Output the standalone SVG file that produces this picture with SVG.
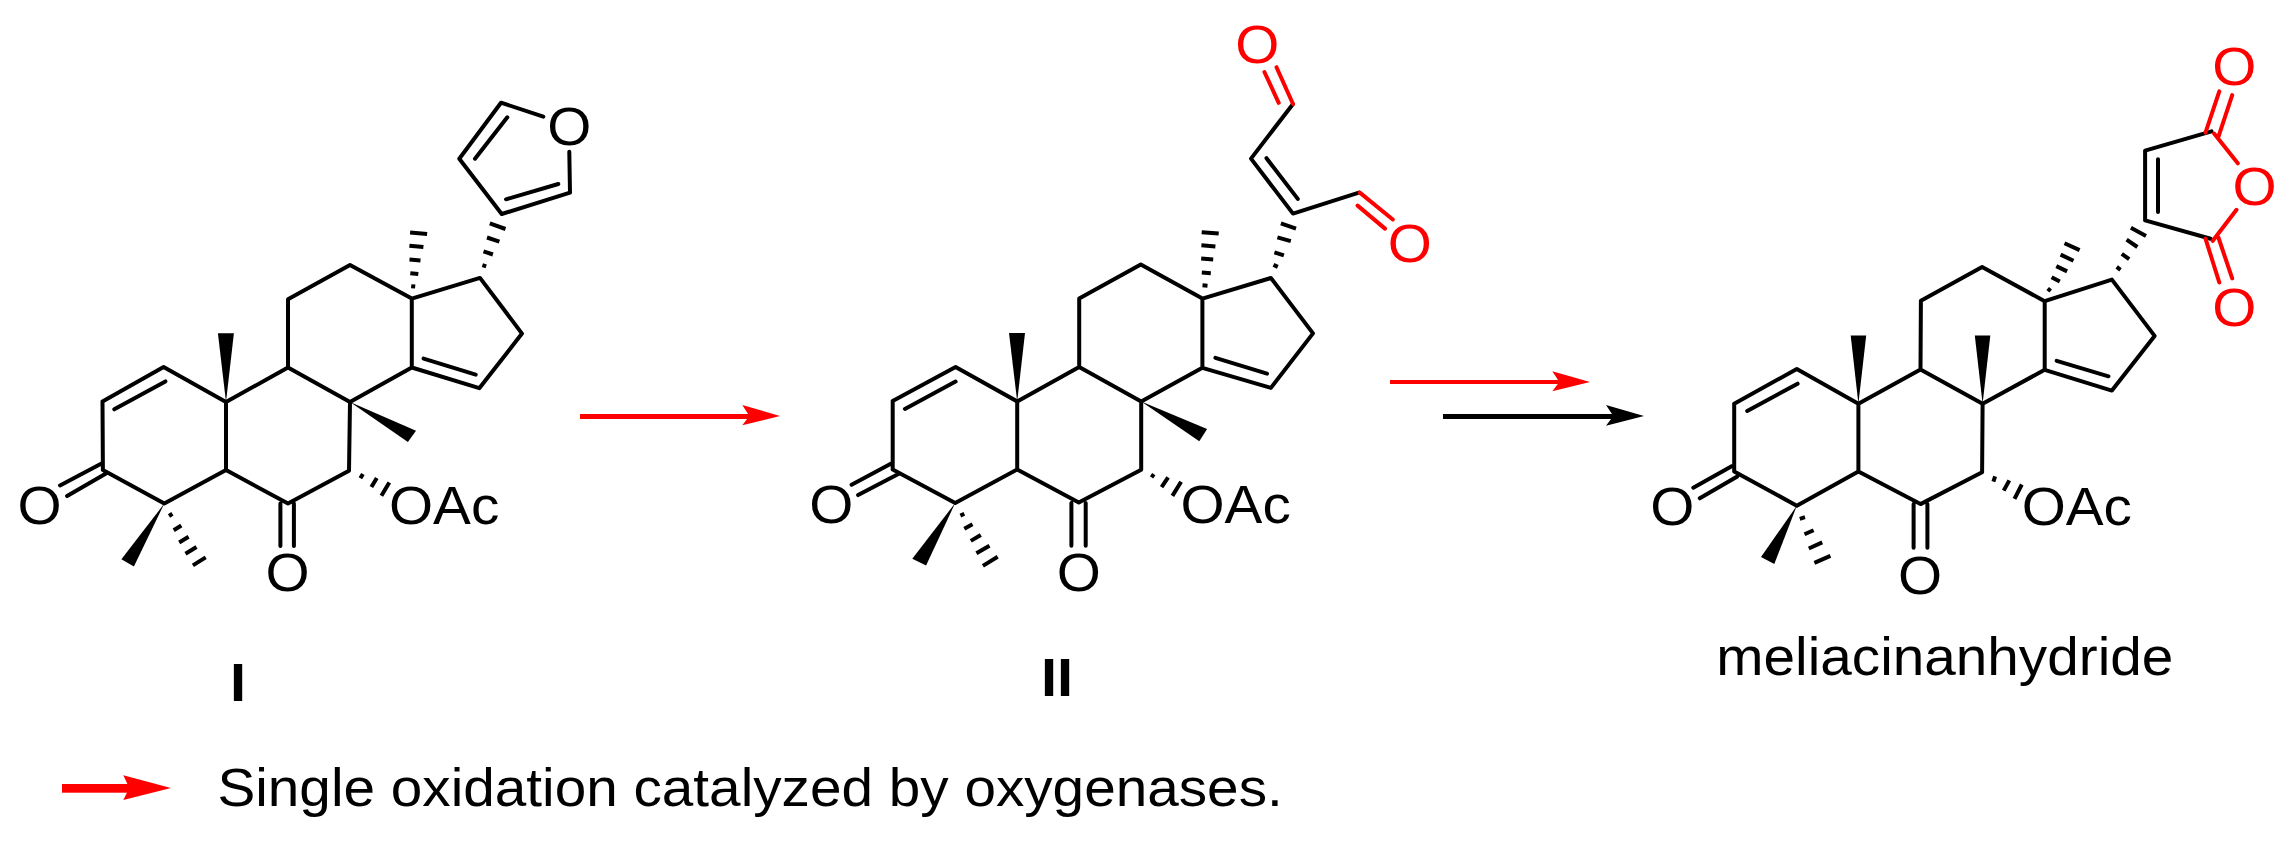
<svg xmlns="http://www.w3.org/2000/svg" width="2296" height="844" viewBox="0 0 2296 844">
<style>
.b{fill:none;stroke:#000;stroke-width:4;stroke-linecap:round;stroke-linejoin:round}
.r{fill:none;stroke:#f00;stroke-width:4;stroke-linecap:round;stroke-linejoin:round}
.h{fill:none;stroke:#000;stroke-width:4;stroke-linecap:butt}
.w{fill:#000;stroke:none}
text{font-family:"Liberation Sans",Arial,sans-serif;fill:#000;font-size:53px}
.m{text-anchor:middle}
.red{fill:#f00}
.bold{font-size:54px;font-weight:bold;text-anchor:middle}
.ar{fill:#f00}
</style>
<rect width="2296" height="844" fill="#fff"/>
<g id="compound-I">
<path class="b" d="M102.5,401.4L163.6,367.1L226,402L288,367.5L350,402L411.8,367.5L479.3,388.2L522,333.6L480,277.9L411.8,298.6L350,265L288,299.3L288,367.5M226,402L226,470L288,503.6L349,470.7L350,402M411.8,298.6L411.8,367.5M102.9,470L164.3,503.6L226,470M102.5,401.4L102.9,470M114.3,409.3L165.4,381.4M423.6,358.6L475.7,374.6M102.5,462.9L60,485.4M106,473.6L67.1,496.1M280.4,503.6L280.4,546M293.9,503.6L293.9,546M501.7,214L459.3,158.7L501,102.7L543.3,116.7M501.7,214L570,192.7L569.3,151.7M475,158.7L507.3,117.3M506,199.3L558.3,184"/>
<polygon class="w" points="164.3,503.6 121.4,559.3 133.9,566.4"/>
<polygon class="w" points="226,402 217.9,333.2 233.9,333.2"/>
<polygon class="w" points="350,402 416,430.7 407.9,442.1"/>
<path class="h" d="M411.2,286.2L415.2,286.6M410.3,273.2L418.3,274M409.5,259.5L420.5,260.5M409.4,245.7L423.4,247.1M410.1,232.4L427.1,234M482.4,265.1L486.2,266.3M483.5,251.3L492.9,254.5M487,237.5L499.4,241.7M489.8,223.3L505.5,229M360.4,478.2L362.9,473.9M371.4,487.1L376.8,477.9M381.4,495.7L389.3,482.5M169,516L172.4,513.8M173.7,530.3L181.3,525.5M179.2,542.5L188.6,536.7M185.5,553.8L196.5,547M192.9,565.4L205.7,557.4"/>
<text class="m" transform="translate(39.6,523.5) scale(1.07,1)">O</text>
<text class="m" transform="translate(287.5,591) scale(1.07,1)">O</text>
<text transform="translate(389,523.5) scale(1.07,1)">OAc</text>
<text class="m" transform="translate(569.3,144.5) scale(1.07,1)">O</text>
<text class="bold" transform="translate(238,701) scale(1.07,1)">I</text>
</g>
<g id="compound-II">
<path class="b" d="M892.7,401L955.6,367L1017.2,401.4L1079.2,367L1141.2,401.4L1202.4,367.8L1270.9,387.9L1313,333.4L1270.9,278L1202.4,298.6L1140.8,264.5L1079.2,298.6L1079.2,367M1017.2,401.4L1017.2,469.4L1078.8,502.6L1141.2,469.8L1141.2,401.4M1202.4,298.6L1202.4,367.8M892.7,469.4L955.2,503L1017.2,469.4M892.7,401L892.7,469.4M904.9,408.9L955.6,381.6M1215.4,357.8L1267,373.7M892.7,462.7L851.6,484.8M899.3,473.4L858.1,495.1M1071.4,503L1071.4,545.7M1085.7,503L1085.7,545.7M1293,104L1251,158.6L1293,213.6L1358.9,192.6M1266.5,158.2L1297.8,198.9"/>
<path class="r" d="M1293,104L1276.5,67.2M1278.7,102.8L1264.4,72M1359.8,192.6L1392.8,219.5M1357.6,205.6L1385,228.6"/>
<polygon class="w" points="955.2,503 912.3,558.7 926.1,565.5"/>
<polygon class="w" points="1017.2,401.4 1009,332.9 1025,332.9"/>
<polygon class="w" points="1141.2,401.4 1207.1,429 1199.3,441.3"/>
<path class="h" d="M1202.5,285.3L1207.5,285.7M1201.8,272.5L1210.8,273.2M1201.2,258.4L1213.2,259.5M1201.4,245.3L1215.4,246.6M1201.7,232.2L1218.7,233.6M1280.9,223.4L1296,228.6M1277.4,237.3L1290.8,241.2M1274.4,252.3L1283.9,255.4M1273.5,264.9L1277.8,266.9M1151.6,477.3L1153.8,474.2M1161.6,487.1L1168.1,477.3M1172.4,495.9L1181.1,481.7M960.4,515.6L964.3,513.8M964.3,528.7L972.5,524.3M970.8,540.9L980.8,535M976.4,553.3L989.5,545.7M982.9,565.9L997.7,556.8"/>
<text class="m" transform="translate(831.2,522.5) scale(1.07,1)">O</text>
<text class="m" transform="translate(1078.8,590.5) scale(1.07,1)">O</text>
<text transform="translate(1180.5,522.5) scale(1.07,1)">OAc</text>
<text class="m red" transform="translate(1257.4,63) scale(1.07,1)">O</text>
<text class="m red" transform="translate(1409.7,262) scale(1.07,1)">O</text>
<text class="bold" transform="translate(1057,696) scale(1.07,1)">II</text>
</g>
<g id="compound-meliacinanhydride">
<path class="b" d="M1734.2,403.7L1796.8,369L1858.4,403.7L1920.5,369.4L1982.6,403.7L2044.7,369.8L2111.9,390.6L2154.6,335.9L2111.9,279.6L2044.7,301.2L1982.1,267L1920.9,300.8L1920.5,369.4M1858.4,403.7L1858.4,471.4L1920.5,504.1L1982.1,472.2L1982.6,403.7M2044.7,301.2L2044.7,369.8M1734.2,471.4L1796.8,505.7L1858.4,471.4M1734.2,403.7L1734.2,471.4M1747.2,411L1797.6,383.7M2056.7,360.8L2108.5,376.3M1732.1,466.1L1693.3,487.7M1737.3,476.4L1699.8,498.3M1913.6,504.1L1913.6,547.7M1927.4,504.1L1927.4,547.7M2211.5,131.4L2145.1,150.6L2145.1,220.4L2210.6,238.7M2158,159.2L2158,211.9"/>
<path class="r" d="M2214.1,133.5L2237.8,163.3M2212.8,240.8L2236.5,209.8M2205.5,132.6L2219.3,91.4M2218.4,136.8L2232.2,95.1M2205.5,238.7L2219.3,282.5M2218.4,237.5L2232.2,278.4"/>
<polygon class="w" points="1858.4,403.7 1850.7,335.5 1866.2,335.5"/>
<polygon class="w" points="1982.6,403.7 1974.8,335.5 1990.3,335.5"/>
<polygon class="w" points="1796.8,505.7 1761,557.1 1774.3,564"/>
<path class="h" d="M1799.8,518.8L1805,517.2M1804.5,534.3L1813.6,530.2M1808.8,548.5L1822.2,542.4M1814.4,562.8L1830.4,555.9M1993.4,481.7L1995.1,476.4M2003.7,490.6L2009.3,480.4M2014.5,498.8L2021.8,484.5M2047.7,288.5L2050.7,291M2051.6,277.2L2059.8,281.6M2056.3,266.1L2067.1,271.4M2060.6,254.6L2073.5,260.8M2064.5,243.3L2079.6,250.1M2116.7,266.9L2120.5,269.8M2121.8,253.9L2129.2,259.2M2126.6,239.6L2137.4,247M2130.9,227.8L2146,235.9"/>
<text class="m" transform="translate(1672.2,525.3) scale(1.07,1)">O</text>
<text class="m" transform="translate(1920,593.5) scale(1.07,1)">O</text>
<text transform="translate(2021.7,525.3) scale(1.07,1)">OAc</text>
<text class="m red" transform="translate(2234.4,85.3) scale(1.07,1)">O</text>
<text class="m red" transform="translate(2254.6,205.2) scale(1.07,1)">O</text>
<text class="m red" transform="translate(2234.4,325.6) scale(1.07,1)">O</text>
<text transform="translate(1716.3,675.4) scale(1.07,1)">meliacinanhydride</text>
</g>
<g id="connectors">
<rect class="ar" x="580" y="414" width="172" height="5"/>
<polygon class="ar" points="780,416 742.3,405 749.3,416 742.3,425.3"/>
<rect class="ar" x="1390" y="380" width="172" height="4"/>
<polygon class="ar" points="1590,382 1552.3,371.3 1559.3,382 1552.3,391.3"/>
<rect x="1443" y="414" width="173" height="5" fill="#000"/>
<polygon points="1644,416 1606,405 1613.3,416 1606,425.7" fill="#000"/>
</g>
<g id="legend">
<rect class="ar" x="62" y="784" width="71" height="8.7"/>
<polygon class="ar" points="171,788 123.3,775.3 129.3,788 123.3,800"/>
<text transform="translate(217.4,806) scale(1.07,1)">Single oxidation catalyzed by oxygenases.</text>
</g>
</svg>
